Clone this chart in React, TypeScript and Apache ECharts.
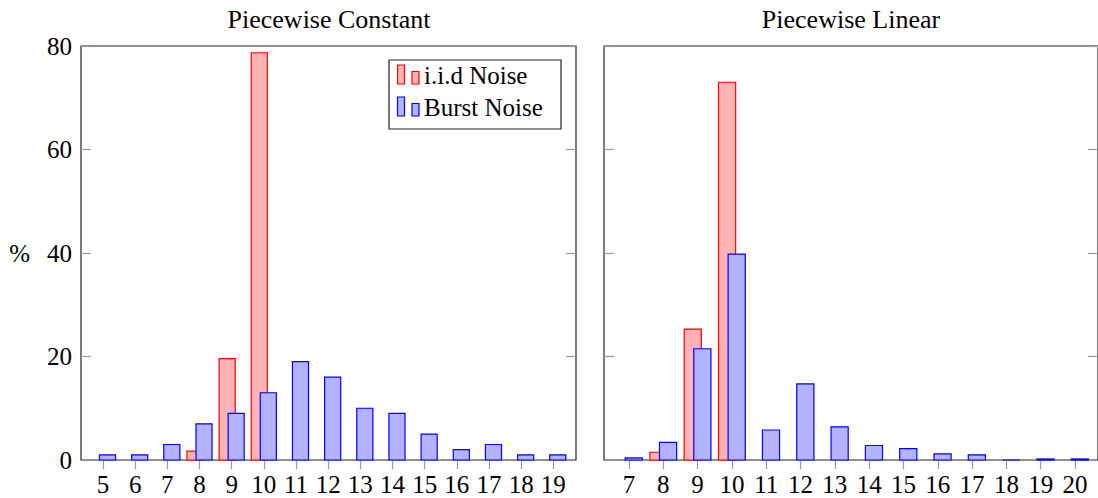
import React, { useEffect, useRef } from "react";
import * as echarts from "echarts";

// Bin positions (number of segments) and the share of runs in each bin, in %
const constCats = [5, 6, 7, 8, 9, 10, 11, 12, 13, 14, 15, 16, 17, 18, 19];
const constIid = [0, 0, 0, 1.7, 19.6, 78.7, 0, 0, 0, 0, 0, 0, 0, 0, 0];
const constBurst = [1, 1, 3, 7, 9, 13, 19, 16, 10, 9, 5, 2, 3, 1, 1];

const linCats = [7, 8, 9, 10, 11, 12, 13, 14, 15, 16, 17, 18, 19, 20];
const linIid = [0, 1.5, 25.3, 73.0, 0, 0, 0, 0, 0, 0, 0, 0, 0, 0];
const linBurst = [0.4, 3.4, 21.5, 39.8, 5.8, 14.7, 6.4, 2.8, 2.2, 1.2, 1.0, 0, 0.2, 0.2];

const FONT = "'Liberation Serif', 'Times New Roman', serif";
const FS = 25;

const RED = { fill: "#ffb3b3", stroke: "#ff0000" };
const BLUE = { fill: "#b3b3ff", stroke: "#0000ff" };

const BAR_W = 0.5;
const SHIFT = 0.14;

function barSeries(name: string, cats: number[], vals: number[], idx: number, offset: number, col: { fill: string; stroke: string }) {
  const data = cats
    .map((c, i) => [c, vals[i]])
    .filter((_d, i) => !(col === RED && vals[i] === 0));
  return {
    type: "custom",
    name,
    xAxisIndex: idx,
    yAxisIndex: idx * 2,
    data,
    renderItem: (_p: any, api: any) => {
      const x = api.value(0);
      const y = api.value(1);
      const a = api.coord([x + offset - BAR_W / 2, y]);
      const b = api.coord([x + offset + BAR_W / 2, 0]);
      return {
        type: "rect",
        shape: { x: a[0], y: a[1], width: b[0] - a[0], height: b[1] - a[1] },
        style: { fill: col.fill, stroke: col.stroke, lineWidth: 1.2 },
      };
    },
    itemStyle: { color: col.fill, borderColor: col.stroke },
    silent: true,
  };
}

function xAxis(idx: number, cats: number[], min: number, max: number) {
  return {
    type: "value",
    gridIndex: idx,
    min,
    max,
    position: "bottom",
    splitLine: { show: false },
    axisLine: { show: false },
    axisTick: { show: true, inside: false, length: 9, customValues: cats, lineStyle: { color: "#999", width: 1.2 } },
    axisLabel: { customValues: cats, color: "#000", fontFamily: FONT, fontSize: FS, margin: 12 },
  };
}

function yAxes(idx: number, labels: boolean) {
  const base = {
    type: "value",
    gridIndex: idx,
    min: 0,
    max: 80,
    interval: 20,
    splitLine: { show: false },
    axisLine: { show: false },
    axisTick: { show: true, inside: true, length: 10, lineStyle: { color: "#999", width: 1.2 } },
  };
  return [
    {
      ...base,
      position: "left",
      axisLabel: { show: labels, color: "#000", fontFamily: FONT, fontSize: FS, margin: 9 },
      ...(labels
        ? {
            name: "%",
            nameLocation: "middle",
            nameRotate: 0,
            nameGap: 51,
            nameTextStyle: { color: "#000", fontFamily: FONT, fontSize: FS },
          }
        : {}),
    },
    { ...base, position: "right", axisLabel: { show: false } },
  ];
}

export default function App() {
  const ref = useRef<HTMLDivElement>(null);

  useEffect(() => {
    if (!ref.current) return;
    const chart = echarts.init(ref.current, null, { renderer: "svg" });

    const grids = [
      { left: 81, top: 46, width: 495, height: 414 },
      { left: 604, top: 46, width: 495, height: 414 },
    ].map((g) => ({ ...g, show: true, borderColor: "#222", borderWidth: 1.2, backgroundColor: "transparent" }));

    const legendRow = (y: number, col: { fill: string; stroke: string }, label: string) => [
      { type: "rect", shape: { x: 397.5, y, width: 7, height: 19 }, style: { fill: col.fill, stroke: col.stroke, lineWidth: 1.2 } },
      { type: "rect", shape: { x: 412, y: y + 6.5, width: 7, height: 12.5 }, style: { fill: col.fill, stroke: col.stroke, lineWidth: 1.2 } },
      {
        type: "text",
        x: 424,
        y: y + 10,
        style: { text: label, fill: "#000", font: `${FS}px ${FONT}`, textVerticalAlign: "middle" },
      },
    ];

    const titleStyle = { color: "#000", fontFamily: FONT, fontSize: 26, fontWeight: "normal" };

    chart.setOption({
      animation: false,
      backgroundColor: "#fff",
      title: [
        { text: "Piecewise Constant", left: 324, top: 1, textAlign: "center", textStyle: titleStyle },
        { text: "Piecewise Linear", left: 846, top: 1, textAlign: "center", textStyle: titleStyle },
      ],
      grid: grids,
      xAxis: [xAxis(0, constCats, 4.316, 19.706), xAxis(1, linCats, 6.273, 20.67)],
      yAxis: [...yAxes(0, true), ...yAxes(1, false)],
      series: [
        barSeries("i.i.d Noise", constCats, constIid, 0, -SHIFT, RED),
        barSeries("Burst Noise", constCats, constBurst, 0, SHIFT, BLUE),
        barSeries("i.i.d Noise", linCats, linIid, 1, -SHIFT, RED),
        barSeries("Burst Noise", linCats, linBurst, 1, SHIFT, BLUE),
      ],
      graphic: [
        {
          type: "group",
          children: [
            { type: "rect", shape: { x: 389, y: 60, width: 172, height: 69 }, style: { fill: "#fff", stroke: "#222", lineWidth: 1.2 } },
            ...legendRow(65, RED, "i.i.d Noise"),
            ...legendRow(97, BLUE, "Burst Noise"),
          ],
        },
      ],
    });

    return () => chart.dispose();
  }, []);

  return <div ref={ref} style={{ position: "absolute", left: 0, top: 0, width: 1098, height: 498 }} />;
}
